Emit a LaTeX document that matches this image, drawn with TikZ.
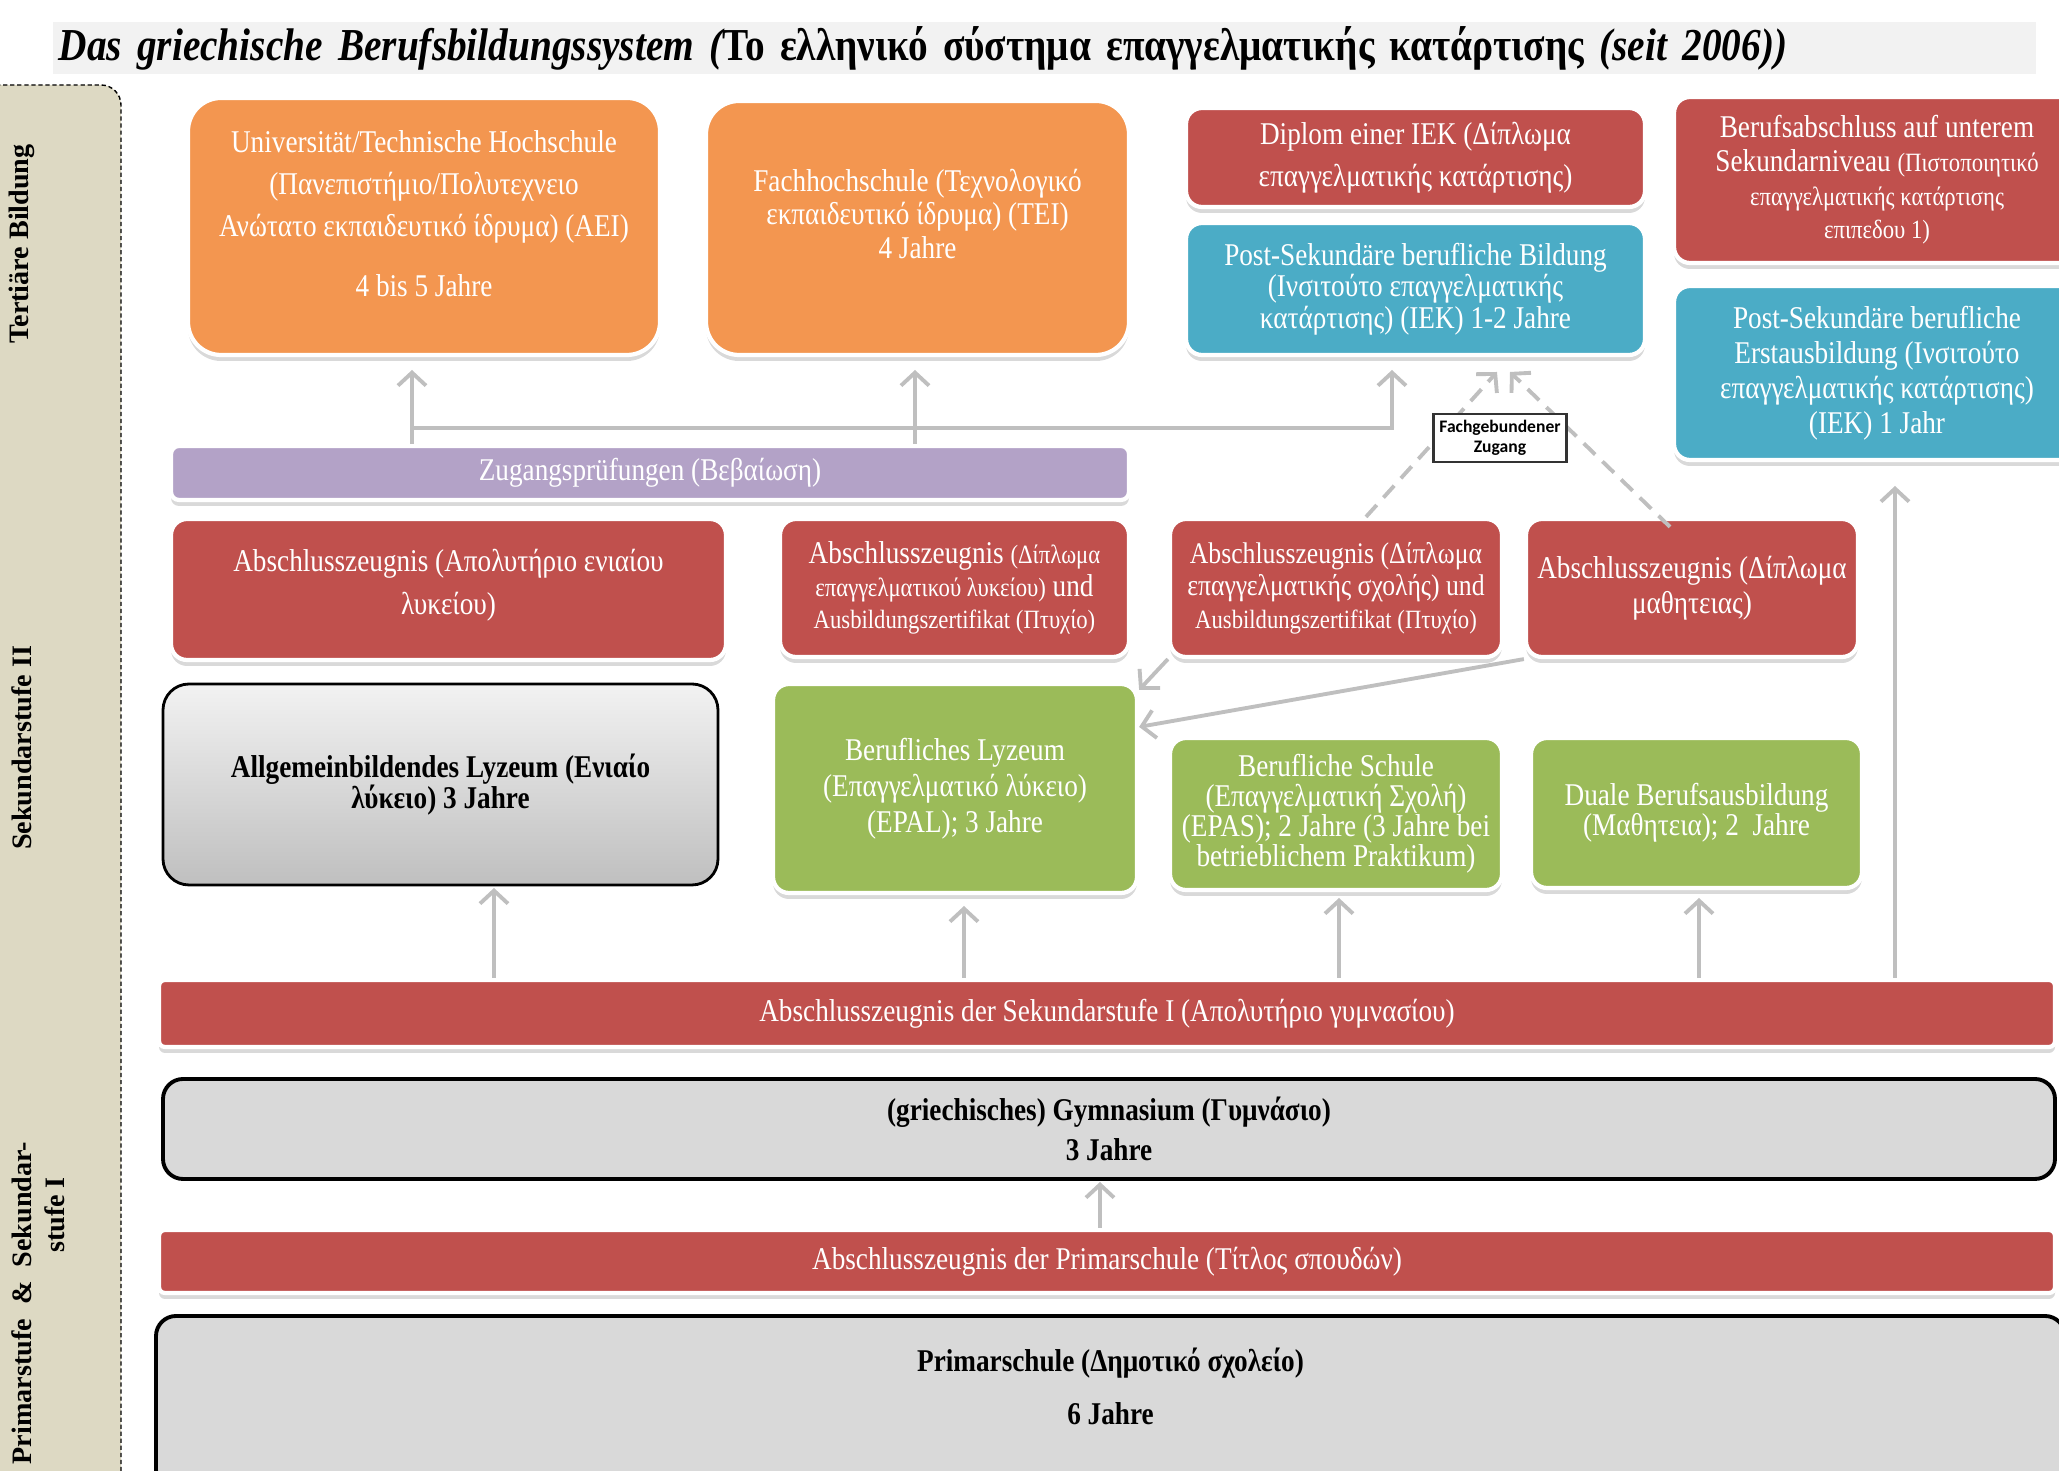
\documentclass[tikz,border=0pt]{standalone}
\usepackage{fontspec}
\setmainfont{Liberation Serif}[FakeStretch=0.86]
\newfontfamily\seitenfont{Liberation Serif}
\newfontfamily\zugangfont{Carlito}
\usetikzlibrary{arrows.meta,shadows}

\definecolor{orangeK}{HTML}{F39650}
\definecolor{rotK}{HTML}{C0504D}
\definecolor{blauK}{HTML}{4BACC6}
\definecolor{gruenK}{HTML}{9BBB59}
\definecolor{lilaK}{HTML}{B3A2C7}
\definecolor{grauK}{HTML}{D9D9D9}
\definecolor{seite}{HTML}{DDD9C3}
\definecolor{pfeilgrau}{HTML}{BFBFBF}
\definecolor{titelgrau}{HTML}{F2F2F2}

\newcommand{\klein}{\fontsize{7.5}{9}\selectfont}

\tikzset{
	wh/.style 2 args = {minimum width=#1*0.01cm, minimum height=#2*0.01cm},
	kasten/.style = {rounded corners=0.16cm, draw=white, line width=1.2pt, text=white,
		align=center, inner sep=1pt, font=\fontsize{9}{12}\selectfont,
		drop shadow={opacity=0.3, shadow xshift=0pt, shadow yshift=-0.06cm}},
	orangekasten/.style = {kasten, fill=orangeK, rounded corners=0.33cm},
	rotkasten/.style = {kasten, fill=rotK},
	blaukasten/.style = {kasten, fill=blauK},
	gruenkasten/.style = {kasten, fill=gruenK},
	lilakasten/.style = {kasten, fill=lilaK},
	graukasten/.style = {rounded corners=0.2cm, draw=black, line width=1.1pt, fill=grauK,
		align=center, inner sep=1pt, font=\fontsize{9}{11.6}\selectfont\bfseries},
	lyzkasten/.style = {graukasten, top color=titelgrau, bottom color=pfeilgrau,
		rounded corners=0.26cm, line width=0.8pt, font=\fontsize{9}{9}\selectfont\bfseries},
	seitentext/.style = {rotate=90, inner sep=0pt, font=\seitenfont\fontsize{8}{9}\selectfont\bfseries},
	pfeil/.style = {draw=pfeilgrau, line width=1.1pt, -{Straight Barb[length=1.3mm, width=2.8mm]}},
	gestrichelt/.style = {pfeil, dash pattern=on 0.16cm off 0.1cm},
}

\begin{document}
\begin{tikzpicture}[x=0.01cm, y=-0.01cm]
	\useasboundingbox (0,0) rectangle (2059,1471);
	
	%	seitenleiste
	\filldraw[fill=seite, draw=black, line width=0.4pt, dash pattern=on 1.2pt off 0.8pt, rounded corners=0.2cm]
		(-50,85) rectangle (121,1520);
	\node[seitentext] (tert) at (22,244) {Tertiäre Bildung};
	\node[seitentext] (sek2) at (22,748) {Sekundarstufe II};
	\node[seitentext] (prim1) at (22,1303) {Primarstufe\ \ \&\ \ Sekundar-};
	\node[seitentext] (prim2) at (55,1215) {stufe I};
	
	%	titel
	\node[fill=titelgrau, wh={1983}{52}, text width=19.7cm, align=left, inner sep=0pt, anchor=west,
		font=\fontsize{13}{15}\selectfont] (titel) at (52,48)
		{\bfseries\itshape Das griechische Berufsbildungssystem (\upshape Το ελληνικό σύστημα επαγγελματικής κατάρτισης \itshape(seit 2006))};
	
	%	tertiär
	\node[orangekasten, wh={472}{257}] (uni) at (424,226.5)
		{Universität/Technische Hochschule\\ (Πανεπιστήμιο/Πολυτεχνειο\\ Ανώτατο εκπαιδευτικό ίδρυμα) (ΑΕΙ)\\[5pt] 4 bis 5 Jahre\\[-4.6pt] \mbox{}};
	\node[orangekasten, wh={423}{254}, font=\fontsize{9}{9.5}\selectfont] (fh) at (917.5,228)
		{Fachhochschule (Τεχνολογικό\\ εκπαιδευτικό ίδρυμα) (ΤΕΙ)\\ 4 Jahre\\[-1.3pt] \mbox{}};
	\node[rotkasten, wh={459}{99}] (diplom) at (1415.5,157.5)
		{Diplom einer IEK (Δίπλωμα\\ επαγγελματικής κατάρτισης)};
	\node[blaukasten, wh={459}{132}, font=\fontsize{9}{9}\selectfont] (iek) at (1415.5,289)
		{Post-Sekundäre berufliche Bildung\\ (Ινσιτούτο επαγγελματικής\\ κατάρτισης) (IEK) 1-2 Jahre};
	\node[rotkasten, wh={406}{166}, font=\fontsize{9}{9.6}\selectfont] (unten) at (1877,180)
		{Berufsabschluss auf unterem\\ Sekundarniveau {\klein (Πιστοποιητικό}\\ {\klein επαγγελματικής κατάρτισης}\\ {\klein επιπεδου 1)}};
	\node[blaukasten, wh={406}{174}, font=\fontsize{9}{10}\selectfont] (erst) at (1877,373)
		{Post-Sekundäre berufliche\\ Erstausbildung (Ινσιτούτο\\ επαγγελματικής κατάρτισης)\\ (IEK) 1 Jahr};
	
	%	sekundarstufe II
	\node[lilakasten, wh={958}{54}, rounded corners=0.08cm] (zug) at (650,473) {Zugangsprüfungen (Βεβαίωση)};
	\node[rotkasten, wh={555}{141}] (azlyz) at (448.5,589.5)
		{Abschlusszeugnis (Απολυτήριο ενιαίου\\ λυκείου)\\[-7.6pt] \mbox{}};
	\node[rotkasten, wh={349}{138}, font=\fontsize{9}{9.2}\selectfont] (azepal) at (954.5,588)
		{Abschlusszeugnis {\klein (Δίπλωμα}\\ {\klein επαγγελματικού λυκείου)} und\\ {\klein Ausbildungszertifikat (Πτυχίο)}};
	\node[rotkasten, wh={332}{138}, font=\fontsize{8.5}{9.2}\selectfont] (azepas) at (1336,588)
		{Abschlusszeugnis (Δίπλωμα\\ επαγγελματικής σχολής) und\\ {\klein Ausbildungszertifikat (Πτυχίο)}};
	\node[rotkasten, wh={332}{138}, font=\fontsize{9}{10}\selectfont] (azlehre) at (1692,588)
		{Abschlusszeugnis (Δίπλωμα\\ μαθητειας)};
	
	\node[lyzkasten, wh={555}{201}] (lyz) at (440.5,784.5)
		{Allgemeinbildendes Lyzeum (Ενιαίο\\ λύκειο) 3 Jahre};
	\node[gruenkasten, wh={364}{209}, font=\fontsize{9}{10.3}\selectfont] (epal) at (955,788.5)
		{Berufliches Lyzeum\\ (Επαγγελματικό λύκειο)\\ (EPAL); 3 Jahre};
	\node[gruenkasten, wh={332}{152}, font=\fontsize{9}{8.5}\selectfont] (epas) at (1336,814)
		{Berufliche Schule\\ (Επαγγελματική Σχολή)\\ (EPAS); 2 Jahre (3 Jahre bei\\ betrieblichem Praktikum)};
	\node[gruenkasten, wh={331}{150}, font=\fontsize{9}{8.5}\selectfont] (dual) at (1696.5,813)
		{Duale Berufsausbildung\\ (Μαθητεια); 2\ \ Jahre};
	
	%	primar und sekundarstufe I
	\node[rotkasten, wh={1896}{67}, rounded corners=0.06cm] (seki) at (1107,1013.5)
		{Abschlusszeugnis der Sekundarstufe I (Απολυτήριο γυμνασίου)};
	\node[graukasten, wh={1892}{100}] (gym) at (1109,1129)
		{(griechisches) Gymnasium (Γυμνάσιο)\\ 3 Jahre};
	\node[rotkasten, wh={1896}{63}, rounded corners=0.06cm] (abprim) at (1107,1261.5)
		{Abschlusszeugnis der Primarschule (Τίτλος σπουδών)};
	\node[graukasten, wh={1909}{174}, font=\fontsize{9}{15}\selectfont\bfseries] (prim) at (1110.5,1403)
		{Primarschule (Δημοτικό σχολείο)\\ 6 Jahre\\[-5.4pt] \mbox{}};
	
	%	pfeilspitzen
	\coordinate (uniIn) at (412,370);
	\coordinate (fhIn) at (915,370);
	\coordinate (iekIn) at (1392,370);
	\coordinate (knick) at (412,428);
	\coordinate (erstIn) at (1895,486);
	\coordinate (lyzIn) at (494,888);
	\coordinate (epalIn) at (964,906);
	\coordinate (epasIn) at (1339,898);
	\coordinate (dualIn) at (1699,898);
	\coordinate (gymIn) at (1100,1182);
	\coordinate (fussL) at (1366,0);
	\coordinate (fussR) at (1670,0);
	\coordinate (spitzeL) at (1497,372);
	\coordinate (spitzeR) at (1510,372);
	
	%	pfeile
	\draw[pfeil] (zug.north -| uniIn) -- (uniIn);
	\draw[pfeil] (zug.north -| fhIn) -- (fhIn);
	\draw[pfeil] (knick) -| (iekIn);
	\draw[pfeil] (seki.north -| erstIn) -- (erstIn);
	\draw[pfeil] (seki.north -| lyzIn) -- (lyzIn);
	\draw[pfeil] (seki.north -| epalIn) -- (epalIn);
	\draw[pfeil] (seki.north -| epasIn) -- (epasIn);
	\draw[pfeil] (seki.north -| dualIn) -- (dualIn);
	\draw[pfeil] (abprim.north -| gymIn) -- (gymIn);
	\draw[pfeil] (azepas.south west) -- ([yshift=-0.08cm]epal.north east);
	\draw[pfeil] (azlehre.south west) -- ([yshift=-0.45cm]epal.north east);
	
	%	fachgebundener zugang
	\draw[gestrichelt] (azepas.north -| fussL) -- (spitzeL);
	\draw[gestrichelt] ([yshift=-0.1cm]azlehre.north -| fussR) -- (spitzeR);
	\node[draw=black!80, fill=white, line width=0.6pt, wh={133}{48}, inner sep=0pt, align=center,
		font=\zugangfont\fontsize{5}{5.5}\selectfont\bfseries] (fach) at (1500,438) {Fachgebundener\\ Zugang};
\end{tikzpicture}
\end{document}
